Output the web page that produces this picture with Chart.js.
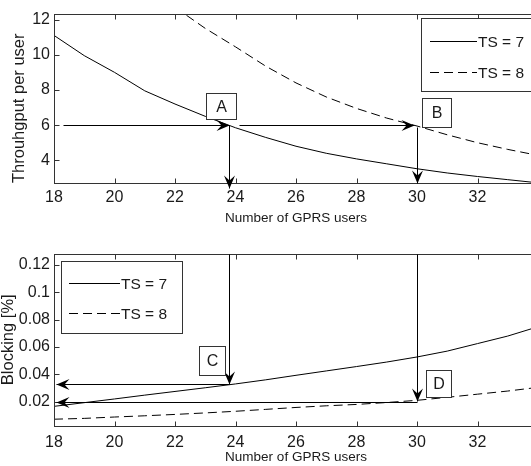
<!DOCTYPE html>
<html><head><meta charset="utf-8">
<script src="https://cdn.jsdelivr.net/npm/chart.js@4.4.1/dist/chart.umd.min.js"></script>
<style>
html,body{margin:0;padding:0;overflow:hidden;background:#fff;}
#wrap{position:relative;width:531px;height:466px;overflow:hidden;background:#fff}
canvas{position:absolute;left:0}
</style></head><body>
<div id="wrap">
<canvas id="topChart" width="560" height="233" style="top:0"></canvas>
<canvas id="botChart" width="560" height="250" style="top:233px"></canvas>
</div>
<script>
// ---- data ----
const users = [18,19,20,21,22,23,24,25,26,27,28,29,30,31,32,33,34];
const throughputTS7 = [11.1,9.95,9.0,7.95,7.2,6.5,5.85,5.3,4.8,4.4,4.08,3.8,3.52,3.28,3.08,2.9,2.72];
const throughputTS8 = [null,null,null,null,12.7,11.5,10.45,9.35,8.4,7.6,6.95,6.4,5.95,5.45,5.0,4.62,4.28];
const blockingTS7 = [0.0166,0.0193,0.022,0.0248,0.0275,0.0302,0.033,0.036,0.0393,0.0425,0.0457,0.049,0.0527,0.057,0.0625,0.068,0.0748];
const blockingTS8 = [0.0072,0.0078,0.0088,0.0097,0.0107,0.0118,0.013,0.0144,0.0158,0.017,0.018,0.0194,0.021,0.0232,0.0255,0.0278,0.0305];
const xTicks = [18,20,22,24,26,28,30,32];
const yTicksTop = [4,6,8,10,12];
const yTicksBot = [0.02,0.04,0.06,0.08,0.1,0.12];
const seriesLabels = ['TS = 7','TS = 8'];
const xTitle = 'Number of GPRS users';
const yTitleTop = 'Throuhgput per user';
const yTitleBot = 'Blocking [%]';
// annotation arrows (data units) and labelled boxes
const arrowsTop = [
  {from:[18.3,6], to:[23.8,6]},
  {from:[24.1,6], to:[29.9,6]},
  {from:[23.8,6], to:[23.8,2.45]},
  {from:[30,5.9], to:[30,2.72]}
];
const arrowsBot = [
  {from:[23.8,0.128], to:[23.8,0.0332]},
  {from:[23.8,0.033], to:[18.05,0.033]},
  {from:[30,0.128], to:[30,0.0206]},
  {from:[30,0.0201], to:[18.05,0.0201]}
];
const boxesTop = [
  {text:'A', x:[23.02,24.02], y:[7.81,6.34]},
  {text:'B', x:[30.17,31.12], y:[7.54,5.9]}
];
const boxesBot = [
  {text:'C', x:[22.78,23.65], y:[0.0607,0.0395]},
  {text:'D', x:[30.29,31.12], y:[0.0432,0.0234]}
];

const FONT = "'Liberation Sans', Arial, Helvetica, sans-serif";
const INK = '#1a1a1a';

function pts(ys){ return users.map((u,i)=>({x:u,y:ys[i]})); }

function arrowHead(ctx,x0,y0,x1,y1){
  const a=Math.atan2(y1-y0,x1-x0), L=13, W=5.5, N=8;
  ctx.save(); ctx.translate(x1,y1); ctx.rotate(a);
  ctx.beginPath(); ctx.moveTo(0,0); ctx.lineTo(-L,-W); ctx.lineTo(-N,0); ctx.lineTo(-L,W); ctx.closePath(); ctx.fill();
  ctx.restore();
}

const decor = {
  id:'decor',
  afterDraw(chart, args, o){
    const ctx=chart.ctx, a=chart.chartArea, xs=chart.scales.x, ys=chart.scales.y;
    ctx.save();
    ctx.lineWidth=1; ctx.strokeStyle='#333';
    const L=(x0,y0,x1,y1)=>{ctx.beginPath();ctx.moveTo(x0,y0);ctx.lineTo(x1,y1);ctx.stroke();};
    const l=Math.round(a.left)+0.5, r=Math.round(a.right)+0.5, t=Math.round(a.top)+0.5, b=Math.round(a.bottom)+0.5;
    ctx.strokeRect(l,t,r-l,b-t);
    xs.ticks.forEach(k=>{const x=Math.round(xs.getPixelForValue(k.value))+0.5; L(x,b,x,b-5); L(x,t,x,t+5);});
    ys.ticks.forEach(k=>{const y=Math.round(ys.getPixelForValue(k.value))+0.5; L(l,y,l+5,y); L(r,y,r-5,y);});
    // arrows
    ctx.strokeStyle='#000'; ctx.fillStyle='#000';
    o.arrows.forEach(ar=>{
      const x0=xs.getPixelForValue(ar.from[0]), y0=ys.getPixelForValue(ar.from[1]);
      const x1=xs.getPixelForValue(ar.to[0]), y1=ys.getPixelForValue(ar.to[1]);
      const X0=Math.round(x0)+0.5, Y0=Math.round(y0)+0.5, X1=Math.round(x1)+0.5, Y1=Math.round(y1)+0.5;
      L(X0,Y0,X1,Y1); arrowHead(ctx,X0,Y0,X1,Y1);
    });
    // boxes
    o.boxes.forEach(bx=>{
      const x0=Math.round(xs.getPixelForValue(bx.x[0]))+0.5, x1=Math.round(xs.getPixelForValue(bx.x[1]))+0.5;
      const y0=Math.round(ys.getPixelForValue(bx.y[0]))+0.5, y1=Math.round(ys.getPixelForValue(bx.y[1]))+0.5;
      ctx.fillStyle='#fff'; ctx.fillRect(x0,y0,x1-x0,y1-y0);
      ctx.strokeStyle='#333'; ctx.strokeRect(x0,y0,x1-x0,y1-y0);
      ctx.fillStyle=INK; ctx.font='16px '+FONT; ctx.textAlign='center'; ctx.textBaseline='middle';
      ctx.fillText(bx.text,(x0+x1)/2,(y0+y1)/2+1);
    });
    // legend
    const g=o.legend;
    ctx.fillStyle='#fff'; ctx.fillRect(g.left+0.5,g.top+0.5,g.width,g.height);
    ctx.strokeStyle='#333'; ctx.strokeRect(g.left+0.5,g.top+0.5,g.width,g.height);
    chart.data.datasets.forEach((ds,i)=>{
      const y=Math.round(g.top+g.rows[i])+0.5;
      ctx.strokeStyle=ds.borderColor; ctx.lineWidth=1; ctx.setLineDash(ds.borderDash||[]);
      L(g.left+g.lineX[0],y,g.left+g.lineX[1],y);
      ctx.setLineDash([]);
      ctx.fillStyle=INK; ctx.font='15.5px '+FONT; ctx.textAlign='left'; ctx.textBaseline='middle';
      ctx.fillText(ds.label,g.left+g.lineX[1]+1,y+1);
    });
    ctx.restore();
  }
};

function makeChart(id, s7, s8, yMin, yMax, yTicks, yTitle, cfg){
  return new Chart(document.getElementById(id), {
    type:'line',
    data:{datasets:[
      {label:seriesLabels[0], data:pts(s7), borderColor:'#000', borderWidth:1, pointRadius:0, tension:0},
      {label:seriesLabels[1], data:pts(s8), borderColor:'#000', borderWidth:1, borderDash:[9,5], pointRadius:0, tension:0}
    ]},
    options:{
      responsive:false, animation:false, events:[],
      layout:{padding:{top:cfg.padTop,right:22,left:0,bottom:0}},
      plugins:{legend:{display:false}, tooltip:{enabled:false},
        decor:{arrows:cfg.arrows, boxes:cfg.boxes, legend:cfg.legend}},
      scales:{
        x:{type:'linear', min:18, max:34,
          grid:{display:false, drawTicks:false}, border:{display:false},
          afterBuildTicks:s=>{s.ticks=xTicks.map(v=>({value:v}));},
          afterFit:s=>{s.height=cfg.xH;},
          ticks:{color:INK, padding:cfg.xTickPad, font:{family:FONT,size:16}, maxRotation:0, callback:v=>String(v)},
          title:{display:true, text:xTitle, color:INK, font:{family:FONT,size:13.5,lineHeight:1}, padding:{top:0,bottom:cfg.xTitlePad}}
        },
        y:{type:'linear', min:yMin, max:yMax,
          grid:{display:false, drawTicks:false}, border:{display:false},
          afterBuildTicks:s=>{s.ticks=yTicks.map(v=>({value:v}));},
          afterFit:s=>{s.width=54;},
          ticks:{color:INK, padding:4, font:{family:FONT,size:16}, callback:v=>String(v)},
          title:{display:true, text:yTitle, align:cfg.yTitleAlign, color:INK, font:{family:FONT,size:16.5,lineHeight:1}, padding:{top:cfg.yTitlePad,bottom:0}}
        }
      }
    },
    plugins:[decor]
  });
}

makeChart('topChart', throughputTS7, throughputTS8, 2.71, 12.34, yTicksTop, yTitleTop, {
  padTop:13, xH:50, xTickPad:5, xTitlePad:7.5, yTitlePad:11, yTitleAlign:'start',
  arrows:arrowsTop, boxes:boxesTop,
  legend:{left:421, top:18, width:125, height:73, rows:[23,54], lineX:[9,56]}
});
makeChart('botChart', blockingTS7, blockingTS8, 0.0026, 0.128, yTicksBot, yTitleBot, {
  padTop:21, xH:57.5, xTickPad:7, xTitlePad:19, yTitlePad:0, yTitleAlign:'center',
  arrows:arrowsBot, boxes:boxesBot,
  legend:{left:61, top:28, width:121, height:72, rows:[22,52], lineX:[8,59]}
});
</script>
</body></html>
